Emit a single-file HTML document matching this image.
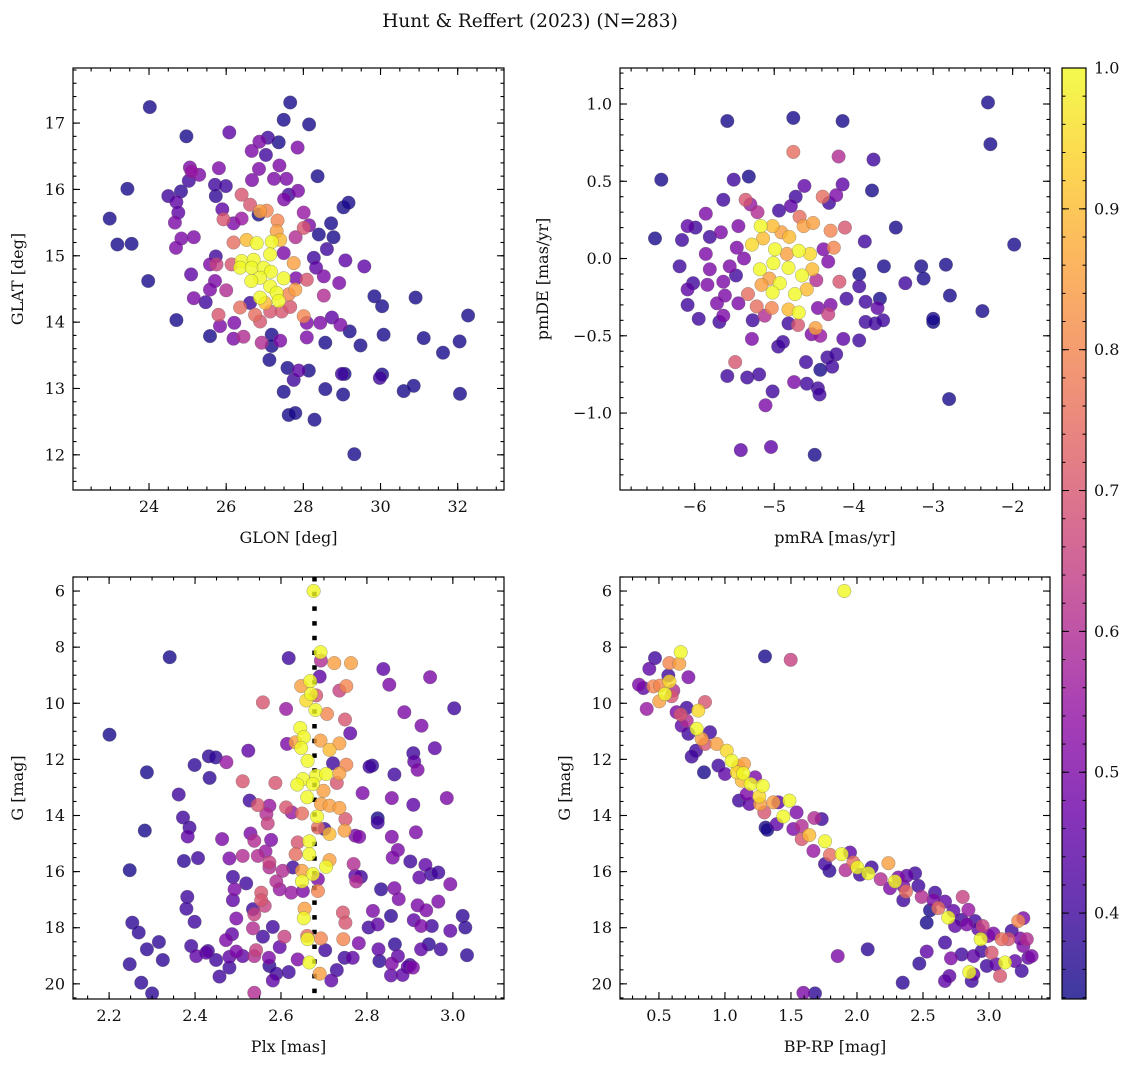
<!DOCTYPE html>
<html><head><meta charset="utf-8"><style>
html,body{margin:0;padding:0;background:#fff;}
svg{display:block;font-family:"DejaVu Serif","Liberation Serif",serif;}
</style></head><body>
<svg id="fig" width="1136" height="1067" viewBox="0 0 1136 1067" xmlns="http://www.w3.org/2000/svg">
<text x="530" y="27" font-size="18.5" text-anchor="middle" fill="#111">Hunt &amp; Reffert (2023) (N=283)</text>
</svg>
<script>
// ---- data (value estimates) ----
const skyData = [[24.02,17.24,.35],[27.66,17.31,.35],[27.49,17.05,.35],[28.15,16.98,.35],[24.97,16.80,.35],[26.08,16.86,.45],[27.08,16.78,.4],[27.36,16.71,.35],[26.86,16.72,.5],[26.66,16.58,.5],[27.03,16.52,.4],[27.85,16.63,.5],[25.06,16.33,.5],[25.10,16.27,.55],[25.30,16.22,.5],[25.81,16.32,.5],[26.85,16.31,.5],[27.38,16.36,.5],[26.67,16.14,.5],[27.24,16.16,.5],[27.56,16.16,.5],[28.37,16.20,.35],[23.44,16.01,.35],[25.03,16.13,.4],[24.83,15.97,.38],[25.71,16.07,.4],[25.99,16.05,.4],[25.73,15.90,.38],[24.50,15.90,.4],[24.71,15.81,.45],[26.40,15.92,.7],[26.62,15.77,.7],[27.50,15.85,.5],[27.86,15.98,.5],[27.62,15.92,.4],[22.98,15.56,.35],[24.76,15.65,.45],[24.67,15.50,.5],[25.90,15.70,.45],[25.93,15.55,.7],[26.19,15.49,.5],[26.40,15.56,.55],[26.84,15.62,.35],[26.88,15.67,.85],[27.05,15.68,.8],[27.33,15.53,.8],[28.01,15.65,.55],[28.15,15.46,.5],[28.72,15.49,.35],[29.04,15.73,.35],[29.17,15.80,.35],[23.18,15.17,.35],[23.55,15.18,.35],[24.84,15.26,.5],[25.16,15.28,.5],[24.70,15.12,.5],[26.19,15.20,.75],[26.53,15.24,.9],[26.79,15.19,1],[27.18,15.21,1],[27.40,15.24,.9],[27.31,15.37,.85],[27.80,15.28,.6],[28.01,15.42,.7],[28.40,15.32,.35],[28.78,15.28,.35],[28.61,15.10,.4],[23.98,14.62,.35],[25.09,14.72,.45],[25.73,14.99,.4],[25.58,14.87,.5],[25.75,14.87,.65],[26.14,14.87,.7],[26.40,14.92,1],[26.71,14.94,1],[27.14,15.02,1],[27.49,15.04,.5],[27.75,14.89,.85],[28.27,14.97,.4],[28.33,14.82,.45],[29.09,14.93,.45],[29.58,14.84,.45],[26.36,14.82,1],[26.66,14.82,1],[26.97,14.82,1],[27.16,14.76,1],[26.88,14.67,1],[26.65,14.62,1],[27.49,14.66,1],[27.81,14.66,.5],[28.09,14.64,.7],[28.53,14.69,.5],[28.93,14.59,.5],[25.71,14.62,.5],[25.58,14.49,.5],[26.00,14.48,.6],[27.14,14.54,1],[27.31,14.44,1],[27.79,14.49,.85],[27.62,14.42,.8],[26.88,14.37,1],[27.36,14.32,1],[27.01,14.29,.9],[26.62,14.29,.4],[29.84,14.39,.35],[30.91,14.37,.35],[30.04,14.24,.35],[28.53,14.40,.6],[25.16,14.36,.5],[25.47,14.30,.4],[24.71,14.03,.35],[25.80,14.11,.7],[26.36,14.22,.75],[26.75,14.11,.75],[26.88,14.01,.7],[27.14,14.16,.7],[27.44,14.16,.7],[27.66,14.23,.7],[28.01,14.09,.8],[28.09,13.99,.5],[28.44,13.99,.5],[28.74,14.07,.45],[28.96,13.96,.5],[29.20,13.86,.35],[32.27,14.10,.35],[25.58,13.79,.35],[25.84,13.94,.5],[26.21,13.99,.5],[26.19,13.75,.5],[26.45,13.78,.6],[26.92,13.69,.6],[27.18,13.81,.35],[27.40,13.72,.5],[27.18,13.64,.35],[28.09,13.77,.5],[28.57,13.69,.35],[29.48,13.65,.35],[30.08,13.81,.35],[31.12,13.76,.35],[31.62,13.54,.35],[32.05,13.71,.35],[27.12,13.43,.35],[27.59,13.31,.35],[27.88,13.27,.45],[28.14,13.27,.35],[27.75,13.13,.4],[29.00,13.22,.4],[29.07,13.22,.35],[29.98,13.16,.4],[30.04,13.21,.35],[27.49,12.95,.35],[28.57,12.99,.35],[29.03,12.91,.35],[30.60,12.96,.35],[30.86,13.04,.35],[32.06,12.92,.35],[27.62,12.60,.35],[27.79,12.63,.35],[28.29,12.53,.35],[29.32,12.01,.35]];

const pmData = [[-2.31,1.01,.35],[-2.28,0.74,.35],[-5.59,0.89,.35],[-4.76,0.91,.35],[-4.14,0.89,.35],[-4.76,0.69,.75],[-4.19,0.66,.6],[-3.75,0.64,.4],[-6.42,0.51,.35],[-5.51,0.51,.4],[-5.32,0.53,.35],[-4.62,0.47,.45],[-4.14,0.48,.45],[-3.77,0.44,.35],[-4.73,0.40,.4],[-4.39,0.40,.75],[-4.22,0.41,.5],[-4.31,0.36,.4],[-5.64,0.38,.4],[-5.36,0.38,.7],[-5.30,0.35,.55],[-5.21,0.30,.6],[-4.79,0.34,.45],[-4.94,0.31,.4],[-4.68,0.27,.75],[-5.86,0.29,.5],[-6.09,0.21,.45],[-5.99,0.20,.4],[-5.45,0.21,.5],[-5.17,0.21,1],[-5.02,0.21,.9],[-4.63,0.21,.85],[-4.51,0.23,.85],[-4.29,0.18,.8],[-4.11,0.20,.7],[-3.47,0.20,.35],[-6.50,0.13,.35],[-6.16,0.12,.4],[-5.81,0.14,.4],[-5.67,0.17,.5],[-5.14,0.13,.9],[-5.28,0.09,.95],[-4.91,0.17,.85],[-4.81,0.14,.9],[-4.25,0.07,.8],[-3.86,0.11,.4],[-1.98,0.09,.35],[-5.86,0.03,.5],[-5.47,0.07,.5],[-5.38,0.00,.5],[-4.99,0.06,1],[-4.69,0.05,1],[-4.55,0.03,.95],[-4.38,0.06,.5],[-4.32,-0.02,.5],[-4.84,0.03,.85],[-6.19,-0.05,.4],[-5.81,-0.07,.5],[-5.56,-0.05,.5],[-5.18,-0.07,1],[-5.01,-0.03,1],[-4.82,-0.06,1],[-4.52,-0.07,.9],[-5.06,-0.13,.85],[-3.62,-0.05,.35],[-3.15,-0.05,.35],[-2.84,-0.04,.35],[-3.93,-0.10,.35],[-6.02,-0.16,.4],[-5.84,-0.17,.5],[-5.64,-0.15,.5],[-5.48,-0.11,.4],[-5.16,-0.17,.85],[-4.93,-0.16,1],[-4.65,-0.11,1],[-4.47,-0.14,.6],[-4.18,-0.15,.7],[-3.93,-0.18,.4],[-3.35,-0.16,.4],[-3.12,-0.13,.35],[-6.09,-0.20,.45],[-5.62,-0.24,.5],[-5.33,-0.23,.75],[-5.02,-0.22,1],[-4.74,-0.23,1],[-4.59,-0.20,.9],[-4.09,-0.26,.4],[-3.85,-0.28,.4],[-3.67,-0.26,.35],[-2.79,-0.24,.35],[-6.09,-0.30,.4],[-5.72,-0.29,.5],[-5.45,-0.29,.5],[-5.22,-0.31,.75],[-5.03,-0.32,.8],[-4.82,-0.33,.9],[-4.69,-0.35,1],[-4.45,-0.32,.5],[-4.29,-0.30,.5],[-3.70,-0.32,.45],[-2.38,-0.34,.35],[-5.95,-0.39,.4],[-5.69,-0.41,.4],[-5.64,-0.37,.5],[-5.27,-0.40,.4],[-5.12,-0.37,.6],[-4.82,-0.42,.4],[-4.70,-0.43,.7],[-4.32,-0.36,.65],[-3.85,-0.41,.4],[-3.73,-0.42,.4],[-3.63,-0.40,.4],[-3.00,-0.39,.35],[-3.00,-0.41,.3],[-5.28,-0.52,.5],[-4.48,-0.45,.85],[-4.53,-0.49,.5],[-4.42,-0.50,.55],[-4.13,-0.52,.45],[-3.93,-0.53,.4],[-4.95,-0.57,.4],[-4.89,-0.54,.4],[-5.49,-0.67,.7],[-4.60,-0.67,.4],[-4.33,-0.64,.4],[-4.22,-0.62,.4],[-4.42,-0.72,.35],[-4.27,-0.70,.4],[-5.59,-0.76,.4],[-5.34,-0.77,.4],[-5.19,-0.75,.4],[-4.75,-0.80,.5],[-4.59,-0.81,.4],[-4.45,-0.84,.4],[-4.43,-0.88,.4],[-5.02,-0.86,.4],[-5.11,-0.95,.5],[-2.80,-0.91,.35],[-5.42,-1.24,.45],[-5.04,-1.22,.45],[-4.49,-1.27,.35]];

const plxData = [[2.676,6.00,1],[2.341,8.36,.35],[2.618,8.39,.4],[2.692,8.18,1],[2.693,8.48,.6],[2.724,8.57,.85],[2.763,8.57,.85],[2.838,8.78,.45],[2.852,9.34,.5],[2.947,9.07,.5],[2.690,9.05,.45],[2.647,9.39,.85],[2.668,9.21,1],[2.736,9.55,.65],[2.752,9.39,.8],[2.670,9.67,1],[2.682,9.72,.7],[2.659,9.90,.95],[2.558,9.97,.7],[2.612,10.20,.55],[2.680,10.24,1],[2.707,10.38,.8],[2.749,10.58,.7],[2.887,10.32,.5],[3.003,10.18,.4],[2.927,10.80,.5],[2.201,11.12,.35],[2.645,10.88,1],[2.653,11.21,1],[2.761,11.07,.45],[2.614,11.45,.5],[2.634,11.39,.85],[2.692,11.33,.85],[2.736,11.43,.85],[2.647,11.59,1],[2.713,11.66,.9],[2.958,11.60,.45],[2.908,11.78,.4],[2.524,11.69,.45],[2.432,11.89,.38],[2.448,11.93,.38],[2.399,12.20,.38],[2.473,12.10,.55],[2.662,12.05,1],[2.721,12.14,.4],[2.752,12.19,.8],[2.812,12.22,.38],[2.806,12.26,.4],[2.910,12.08,.45],[2.918,12.37,.5],[2.288,12.46,.35],[2.434,12.66,.38],[2.511,12.78,.7],[2.587,12.84,.7],[2.651,12.70,1],[2.682,12.58,1],[2.705,12.52,1],[2.736,12.50,.85],[2.730,12.84,.7],[2.864,12.54,.4],[2.638,12.90,1],[2.674,12.88,1],[2.699,13.12,.85],[2.362,13.25,.4],[2.790,13.20,.5],[2.858,13.38,.5],[2.986,13.38,.5],[2.661,13.35,1],[2.527,13.47,.4],[2.546,13.63,.7],[2.573,13.65,.55],[2.612,13.71,.7],[2.649,13.93,.75],[2.693,13.59,.85],[2.713,13.65,.85],[2.736,13.73,.85],[2.908,13.62,.45],[2.566,13.95,.6],[2.372,14.07,.4],[2.625,13.89,.55],[2.684,14.04,1],[2.750,14.13,.7],[2.825,14.10,.35],[2.825,14.25,.4],[2.283,14.54,.35],[2.387,14.43,.4],[2.383,14.75,.45],[2.569,14.28,.65],[2.686,14.43,.75],[2.713,14.66,.9],[2.748,14.54,.85],[2.701,14.48,.4],[2.773,14.72,.5],[2.782,14.76,.5],[2.914,14.60,.5],[2.463,14.84,.5],[2.529,14.64,.5],[2.538,14.90,.6],[2.577,14.87,.5],[2.858,14.76,.5],[2.639,14.96,.7],[2.666,14.92,1],[2.872,15.23,.5],[2.248,15.95,.35],[2.374,15.62,.38],[2.407,15.52,.4],[2.480,15.53,.5],[2.511,15.44,.6],[2.546,15.44,.6],[2.573,15.67,.65],[2.564,15.28,.55],[2.634,15.38,.75],[2.666,15.38,1],[2.713,15.59,.85],[2.705,15.83,1],[2.769,15.73,.6],[2.860,15.50,.5],[2.901,15.64,.4],[2.936,15.76,.45],[2.573,15.85,.6],[2.604,15.97,.6],[2.628,15.85,.4],[2.649,15.97,.85],[2.674,16.09,1],[2.686,16.27,.5],[2.773,16.15,.45],[2.786,16.19,.4],[2.922,16.21,.45],[2.949,16.09,.4],[2.966,16.03,.4],[2.488,16.19,.4],[2.519,16.42,.4],[2.589,16.35,.6],[2.597,16.63,.55],[2.624,16.75,.55],[2.649,16.35,1],[2.651,16.69,.5],[2.686,16.69,.8],[2.775,16.35,.6],[2.833,16.63,.38],[2.864,16.59,.5],[2.994,16.45,.5],[2.492,16.63,.5],[2.554,16.75,.7],[2.382,16.90,.4],[2.488,17.02,.45],[2.554,17.02,.7],[2.874,16.98,.5],[2.918,17.20,.5],[2.966,17.07,.5],[2.380,17.32,.4],[2.535,17.34,.4],[2.655,17.32,.85],[2.744,17.46,.7],[2.814,17.40,.5],[2.938,17.38,.5],[2.562,17.22,.65],[2.254,17.82,.38],[2.399,17.79,.4],[2.496,17.67,.5],[2.538,17.52,.65],[2.653,17.66,1],[2.750,17.82,.7],[2.804,17.99,.4],[2.825,17.88,.45],[2.856,17.58,.38],[2.909,17.73,.45],[2.926,17.94,.5],[2.951,17.94,.4],[3.023,17.58,.38],[3.029,17.99,.38],[2.581,17.97,.4],[2.269,18.17,.38],[2.316,18.51,.38],[2.391,18.65,.4],[2.288,18.77,.38],[2.535,18.02,.6],[2.558,18.32,.4],[2.486,18.23,.45],[2.472,18.44,.5],[2.608,18.32,.65],[2.661,18.29,.75],[2.662,18.41,1],[2.693,18.38,.8],[2.745,18.41,.8],[2.781,18.55,.5],[2.865,18.59,.38],[2.926,18.77,.45],[2.944,18.59,.38],[2.972,18.77,.4],[2.994,18.11,.45],[3.033,18.98,.38],[2.827,18.77,.45],[2.426,18.89,.45],[2.430,18.83,.4],[2.496,18.85,.5],[2.542,18.80,.65],[2.597,18.69,.45],[2.703,18.80,.4],[2.248,19.30,.38],[2.325,19.15,.38],[2.403,19.01,.45],[2.449,19.15,.4],[2.480,19.04,.45],[2.511,19.01,.45],[2.538,19.01,.6],[2.572,19.07,.5],[2.573,19.36,.38],[2.639,19.13,.5],[2.666,19.24,1],[2.690,19.64,.85],[2.748,19.07,.4],[2.767,19.07,.45],[2.829,19.19,.38],[2.858,19.28,.5],[2.872,19.01,.45],[2.895,19.40,.45],[2.907,19.42,.5],[2.900,19.33,.4],[2.480,19.42,.4],[2.457,19.74,.4],[2.589,19.64,.4],[2.618,19.58,.4],[2.730,19.51,.4],[2.856,19.70,.45],[2.883,19.68,.45],[2.581,19.88,.45],[2.275,19.96,.38],[2.300,20.34,.38],[2.538,20.32,.6],[2.717,19.88,.45]];

const cmdData = [[1.904,6.00,1],[0.665,8.18,1],[0.470,8.39,.4],[1.303,8.33,.35],[1.498,8.45,.65],[0.427,8.77,.45],[0.579,8.57,.8],[0.654,8.59,.85],[0.571,9.01,.4],[0.723,9.07,.5],[0.349,9.34,.5],[0.382,9.46,.45],[0.458,9.40,.8],[0.508,9.37,.8],[0.579,9.22,.95],[0.546,9.67,1],[0.609,9.55,.6],[0.596,9.75,.7],[0.503,9.93,.85],[0.407,10.20,.55],[0.849,9.96,.7],[0.710,10.16,.4],[0.798,10.26,.95],[0.634,10.32,.5],[0.665,10.40,.7],[0.710,10.62,.6],[0.672,10.80,.45],[0.786,10.91,1],[0.723,11.09,.4],[0.887,11.03,.4],[0.824,11.27,.85],[0.849,11.45,.7],[0.781,11.69,.4],[0.748,11.90,.4],[0.937,11.45,.85],[1.013,11.69,.95],[1.051,12.05,1],[0.950,12.22,.4],[1.000,12.52,.45],[0.841,12.46,.35],[1.101,12.25,.85],[1.144,12.16,.85],[1.089,12.46,.95],[1.139,12.50,1],[1.127,12.76,.9],[1.195,12.88,1],[1.286,12.94,1],[1.228,12.64,.5],[1.165,13.24,.5],[1.106,13.47,.4],[1.185,13.59,.45],[1.260,13.32,.95],[1.266,13.59,.85],[1.367,13.53,.85],[1.298,13.89,.7],[1.404,13.53,.45],[1.392,14.31,.45],[1.308,14.43,.35],[1.321,14.51,.35],[1.442,14.04,1],[1.488,13.47,1],[1.543,13.89,.5],[1.518,14.48,.5],[1.581,14.37,.6],[1.677,14.09,.6],[1.733,14.13,.4],[1.639,14.70,.9],[1.581,14.84,.7],[1.670,15.26,.55],[1.758,14.92,1],[1.796,15.40,.75],[1.758,15.73,.4],[1.791,15.97,.38],[1.884,15.38,1],[1.947,15.32,.45],[1.914,15.95,.6],[1.973,15.67,.75],[2.003,15.85,1],[2.023,16.11,.4],[2.086,16.06,1],[2.111,15.85,.4],[2.180,16.27,.6],[2.238,15.70,.85],[2.288,16.35,1],[2.250,16.59,.5],[2.351,16.51,.5],[2.371,16.71,.75],[2.313,16.21,.5],[2.377,16.15,.45],[2.440,16.06,.4],[2.465,16.51,.4],[2.351,17.02,.4],[2.490,16.90,.6],[2.591,16.75,.4],[2.579,17.02,.5],[2.667,17.07,.45],[2.616,17.30,.75],[2.692,17.64,1],[2.553,17.38,.35],[2.528,17.82,.35],[2.801,16.90,.65],[2.844,17.36,.55],[2.730,17.40,.45],[2.793,17.72,.4],[2.743,17.94,.45],[2.831,17.88,.5],[2.894,17.76,.4],[2.919,18.05,.45],[2.952,17.94,.65],[2.937,18.41,1],[2.995,18.29,.5],[3.033,18.21,.5],[3.096,18.41,.75],[3.147,18.41,.7],[3.222,17.76,.8],[3.260,17.66,.5],[3.172,18.11,.4],[3.235,18.38,.5],[3.286,18.41,.6],[3.260,18.65,.5],[3.323,19.01,.5],[3.298,19.07,.45],[3.020,18.89,.7],[2.945,18.83,.4],[3.121,19.24,1],[3.053,19.30,.45],[3.197,19.19,.45],[3.248,19.54,.4],[2.983,19.36,.4],[2.882,19.01,.45],[3.084,19.72,.7],[2.882,19.66,.45],[2.851,19.58,1],[2.869,19.90,.4],[2.667,18.53,.4],[2.793,18.95,.4],[2.712,19.09,.5],[2.528,18.85,.45],[2.472,19.28,.38],[2.700,19.72,.45],[2.667,19.90,.45],[2.346,19.96,.38],[2.081,18.77,.38],[1.854,19.01,.5],[1.594,20.32,.5],[1.682,20.34,.38]];

const plxLine = [2.678];
const cbarTicks = [0.4,0.5,0.6,0.7,0.8,0.9,1.0];
const cbarMin = 0.339, cbarMax = 1.0;

// ---- rendering ----
const NS = 'http://www.w3.org/2000/svg';
const svg = document.getElementById('fig');
function mk(tag, attrs, parent){
  const e = document.createElementNS(NS, tag);
  for (const k in attrs) e.setAttribute(k, attrs[k]);
  (parent||svg).appendChild(e);
  return e;
}
const stops = ['#0d0887','#41049d','#6a00a8','#8f0da4','#b12a90','#cc4778','#e16462','#f2844b','#fca636','#fcce25','#f0f921'];
function hex(h){return [parseInt(h.substr(1,2),16),parseInt(h.substr(3,2),16),parseInt(h.substr(5,2),16)];}
function plasma(t){
  t=Math.max(0,Math.min(1,t));
  const f=t*10, i=Math.min(9,Math.floor(f)), u=f-i;
  const a=hex(stops[i]), b=hex(stops[i+1]);
  return 'rgb('+a.map((v,k)=>Math.round(v+(b[k]-v)*u)).join(',')+')';
}
function colorOf(p){return plasma((p-cbarMin)/(cbarMax-cbarMin));}
function fmt(v,d){const s=Math.abs(v).toFixed(d);return (v< -1e-9?'\u2212':'')+s;}

function panel(c){
  const g = mk('g',{});
  
  
  const sx = v => c.x0 + (v - c.xmin)/(c.xmax - c.xmin)*(c.x1 - c.x0);
  const sy = c.invert ? (v => c.y0 + (v - c.ymin)/(c.ymax - c.ymin)*(c.y1 - c.y0))
                      : (v => c.y1 - (v - c.ymin)/(c.ymax - c.ymin)*(c.y1 - c.y0));
  const cid = c.name+'-clip';
  const cp = mk('clipPath',{id:cid},g);
  mk('rect',{x:c.x0,y:c.y0,width:c.x1-c.x0,height:c.y1-c.y0},cp);
  const pts = mk('g',{'clip-path':'url(#'+cid+')'},g);
  
  
  if (c.vline){
    c.vline.forEach(v=>{
      const l = mk('line',{x1:sx(v),x2:sx(v),y1:c.y0,y2:c.y1,stroke:'#000','stroke-width':4.5,'stroke-dasharray':'4.5 10.2'},pts);
      
      
    });
  }
  const data = c.data.slice().sort((a,b)=>a[2]-b[2]);
  data.forEach(d=>{
    const e = mk('circle',{cx:sx(d[0]).toFixed(1),cy:sy(d[1]).toFixed(1),r:6.8,fill:colorOf(d[2]),'fill-opacity':0.8,stroke:'#666','stroke-opacity':0.6,'stroke-width':0.5},pts);
    
    
  });
  const fr = mk('rect',{x:c.x0,y:c.y0,width:c.x1-c.x0,height:c.y1-c.y0,fill:'none',stroke:'#000','stroke-width':1.2},g);
  
  
  const tk = mk('g',{stroke:'#000','stroke-width':1.1},g);
  function ticksAlong(min,max,step){const a=[];for(let v=Math.ceil(min/step-1e-9)*step;v<=max+1e-9;v+=step)a.push(+v.toFixed(6));return a;}
  ticksAlong(c.xmin,c.xmax,c.xminor).forEach(v=>{const x=sx(v);mk('line',{x1:x,x2:x,y1:c.y1,y2:c.y1-3.5},tk);mk('line',{x1:x,x2:x,y1:c.y0,y2:c.y0+3.5},tk);});
  ticksAlong(c.ymin,c.ymax,c.yminor).forEach(v=>{const y=sy(v);mk('line',{x1:c.x0,x2:c.x0+3.5,y1:y,y2:y},tk);mk('line',{x1:c.x1,x2:c.x1-3.5,y1:y,y2:y},tk);});
  c.xticks.forEach(v=>{const x=sx(v);mk('line',{x1:x,x2:x,y1:c.y1,y2:c.y1-7},tk);mk('line',{x1:x,x2:x,y1:c.y0,y2:c.y0+7},tk);
    const t=mk('text',{x:x,y:c.y1+22,'font-size':16,'text-anchor':'middle',fill:'#111'},g);t.textContent=fmt(v,c.xd);
    });
  c.yticks.forEach(v=>{const y=sy(v);mk('line',{x1:c.x0,x2:c.x0+7,y1:y,y2:y},tk);mk('line',{x1:c.x1,x2:c.x1-7,y1:y,y2:y},tk);
    const t=mk('text',{x:c.x0-8,y:y+5.5,'font-size':16,'text-anchor':'end',fill:'#111'},g);t.textContent=fmt(v,c.yd);
    });
  const xl=mk('text',{x:(c.x0+c.x1)/2,y:c.y1+53,'font-size':16,'text-anchor':'middle',fill:'#111'},g);xl.textContent=c.xlabel;
  
  const yl=mk('text',{x:0,y:0,'font-size':16,'text-anchor':'middle',fill:'#111',transform:'translate('+c.ylx+','+((c.y0+c.y1)/2)+') rotate(-90)'},g);yl.textContent=c.ylabel;
  
}

panel({name:'sky-panel',data:skyData,x0:73,x1:504,y0:68,y1:490,xmin:22.03,xmax:33.2,ymin:11.47,ymax:17.83,invert:false,
  xticks:[24,26,28,30,32],yticks:[12,13,14,15,16,17],xminor:0.5,yminor:0.2,xd:0,yd:0,xlabel:'GLON [deg]',ylabel:'GLAT [deg]',ylx:23});
panel({name:'proper-motion-panel',data:pmData,x0:620,x1:1050,y0:68,y1:490,xmin:-6.94,xmax:-1.53,ymin:-1.498,ymax:1.233,invert:false,
  xticks:[-6,-5,-4,-3,-2],yticks:[-1,-0.5,0,0.5,1],xminor:0.2,yminor:0.1,xd:0,yd:1,xlabel:'pmRA [mas/yr]',ylabel:'pmDE [mas/yr]',ylx:548});
panel({name:'parallax-magnitude-panel',data:plxData,vline:plxLine,x0:73,x1:504,y0:577,y1:999,xmin:2.116,xmax:3.119,ymin:5.5,ymax:20.54,invert:true,
  xticks:[2.2,2.4,2.6,2.8,3.0],yticks:[6,8,10,12,14,16,18,20],xminor:0.05,yminor:0.5,xd:1,yd:0,xlabel:'Plx [mas]',ylabel:'G [mag]',ylx:23});
panel({name:'color-magnitude-panel',data:cmdData,x0:620,x1:1050,y0:577,y1:999,xmin:0.205,xmax:3.462,ymin:5.5,ymax:20.54,invert:true,
  xticks:[0.5,1.0,1.5,2.0,2.5,3.0],yticks:[6,8,10,12,14,16,18,20],xminor:0.1,yminor:0.5,xd:1,yd:0,xlabel:'BP-RP [mag]',ylabel:'G [mag]',ylx:570});

(function(){
  const x0=1062,x1=1086,y0=68,y1=999;
  const cg = mk('g',{});
  
  
  const defs = mk('defs',{},cg);
  const lg = mk('linearGradient',{id:'cbgrad',x1:0,y1:1,x2:0,y2:0},defs);
  for(let i=0;i<=20;i++){mk('stop',{offset:(i/20),'stop-color':plasma(i/20),'stop-opacity':0.8},lg);}
  const r = mk('rect',{x:x0,y:y0,width:x1-x0,height:y1-y0,fill:'url(#cbgrad)',stroke:'#000','stroke-width':1.2},cg);
  
  
  const sy = v => y1 - (v-cbarMin)/(cbarMax-cbarMin)*(y1-y0);
  for(let v=0.34;v<=1.0001;v+=0.02){const y=sy(v);mk('line',{x1:x1,x2:x1-3.5,y1:y,y2:y,stroke:'#000'},cg);mk('line',{x1:x0,x2:x0+3.5,y1:y,y2:y,stroke:'#000'},cg);}
  cbarTicks.forEach(v=>{const y=sy(v);mk('line',{x1:x1,x2:x1-7,y1:y,y2:y,stroke:'#000'},cg);mk('line',{x1:x0,x2:x0+7,y1:y,y2:y,stroke:'#000'},cg);
    const t=mk('text',{x:x1+8,y:y+5.5,'font-size':16,fill:'#111'},cg);t.textContent=v.toFixed(1);
    });
})();
</script>
</body></html>
